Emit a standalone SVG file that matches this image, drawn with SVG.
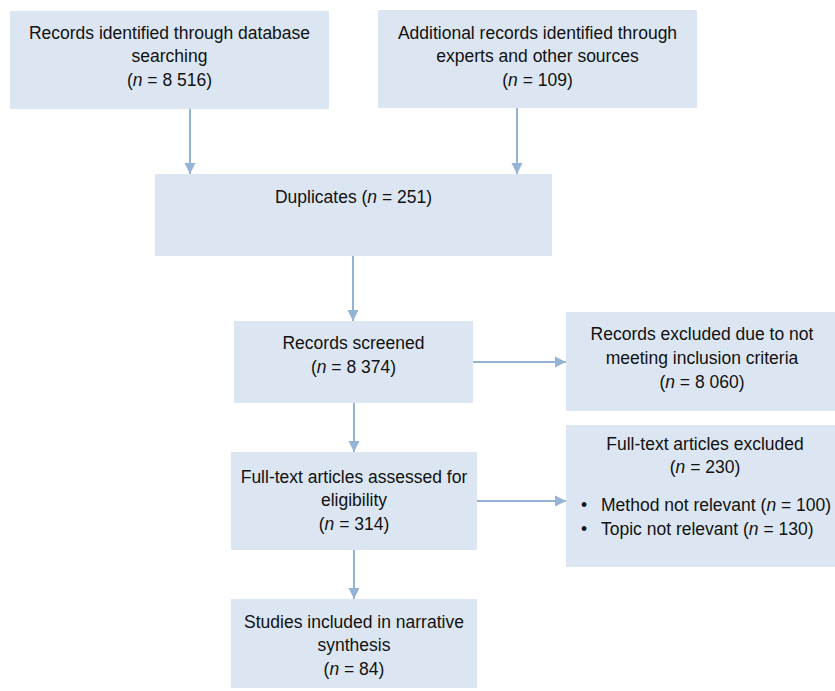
<svg xmlns="http://www.w3.org/2000/svg" width="835" height="691" viewBox="0 0 835 691">
<style>
.box{fill:#dce6f2;}
.t{font-family:"Liberation Sans",Arial,sans-serif;font-size:17.5px;fill:#111111;text-anchor:middle;}
.l{text-anchor:start;}
.c{stroke:#95b3d7;stroke-width:2;fill:none;marker-end:url(#ah);}
</style>
<defs>
<marker id="ah" markerUnits="userSpaceOnUse" markerWidth="12" markerHeight="12" viewBox="0 0 12 12" refX="11" refY="6" orient="auto">
<path d="M0,0.5 L11,6 L0,11.5 Z" fill="#95b3d7"/>
</marker>
</defs>
<rect width="835" height="691" fill="#ffffff"/>
<g id="connectors">
<line class="c" x1="190" y1="109" x2="190" y2="174"/>
<line class="c" x1="517" y1="108" x2="517" y2="174"/>
<line class="c" x1="353" y1="256" x2="353" y2="321"/>
<line class="c" x1="473" y1="362" x2="566" y2="362"/>
<line class="c" x1="354" y1="403" x2="354" y2="452"/>
<line class="c" x1="477" y1="501" x2="566" y2="501"/>
<line class="c" x1="354" y1="550" x2="354" y2="599"/>
</g>
<g id="db">
<rect class="box" x="10" y="11" width="319" height="98"/>
<text class="t" x="169.5" y="38.5">Records identified through database</text>
<text class="t" x="169.5" y="62">searching</text>
<text class="t" x="169.5" y="85.5">(<tspan font-style="italic">n</tspan> = 8 516)</text>
</g>
<g id="additional">
<rect class="box" x="378" y="10" width="319" height="98"/>
<text class="t" x="537.5" y="38.5">Additional records identified through</text>
<text class="t" x="537.5" y="62">experts and other sources</text>
<text class="t" x="537.5" y="85.5">(<tspan font-style="italic">n</tspan> = 109)</text>
</g>
<g id="duplicates">
<rect class="box" x="155" y="174" width="397" height="82"/>
<text class="t" x="353.5" y="203">Duplicates (<tspan font-style="italic">n</tspan> = 251)</text>
</g>
<g id="screened">
<rect class="box" x="234" y="321" width="239" height="82"/>
<text class="t" x="353.5" y="349">Records screened</text>
<text class="t" x="353.5" y="373">(<tspan font-style="italic">n</tspan> = 8 374)</text>
</g>
<g id="excluded">
<rect class="box" x="566" y="312" width="269" height="99"/>
<text class="t" x="702" y="340">Records excluded due to not</text>
<text class="t" x="702" y="364">meeting inclusion criteria</text>
<text class="t" x="702" y="388">(<tspan font-style="italic">n</tspan> = 8 060)</text>
</g>
<g id="assessed">
<rect class="box" x="231" y="452" width="246" height="98"/>
<text class="t" x="354" y="483">Full-text articles assessed for</text>
<text class="t" x="354" y="506">eligibility</text>
<text class="t" x="354" y="530">(<tspan font-style="italic">n</tspan> = 314)</text>
</g>
<g id="ft-excluded">
<rect class="box" x="566" y="425" width="269" height="142"/>
<text class="t" x="705" y="450">Full-text articles excluded</text>
<text class="t" x="705" y="473">(<tspan font-style="italic">n</tspan> = 230)</text>
<text class="t l" x="581" y="511">•</text>
<text class="t l" x="601" y="511">Method not relevant (<tspan font-style="italic">n</tspan> = 100)</text>
<text class="t l" x="581" y="535">•</text>
<text class="t l" x="601" y="535">Topic not relevant (<tspan font-style="italic">n</tspan> = 130)</text>
</g>
<g id="included">
<rect class="box" x="231" y="599" width="246" height="89"/>
<text class="t" x="354" y="628">Studies included in narrative</text>
<text class="t" x="354" y="651">synthesis</text>
<text class="t" x="354" y="675">(<tspan font-style="italic">n</tspan> = 84)</text>
</g>
</svg>
